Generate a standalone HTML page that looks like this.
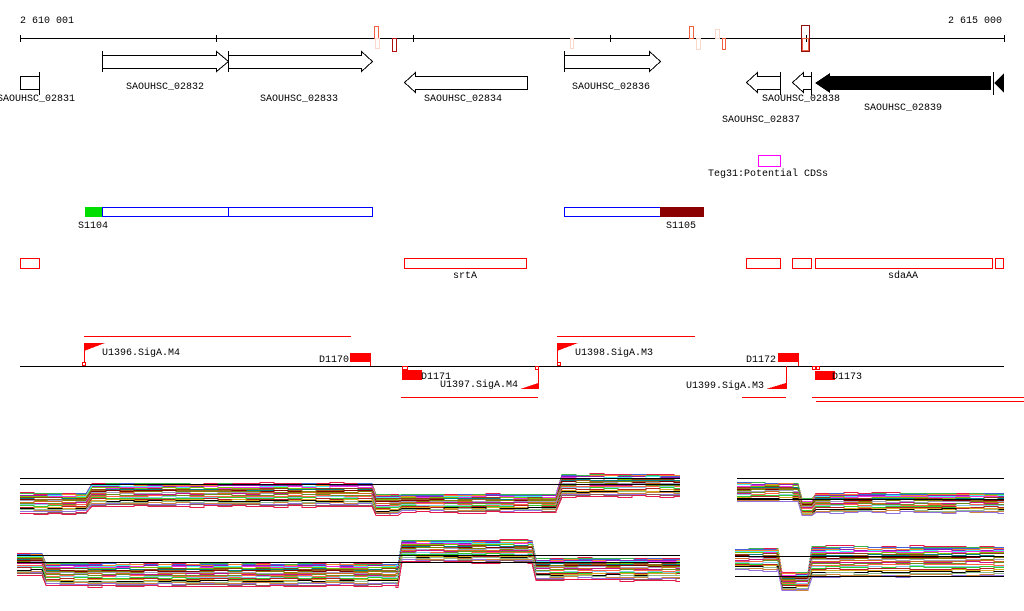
<!DOCTYPE html>
<html><head><meta charset="utf-8"><style>
html,body{margin:0;padding:0;background:#fff;}
svg{display:block;}
text{font-family:"Liberation Mono",monospace;font-size:10px;fill:#000;}
</style></head><body>
<svg id="s" width="1024" height="611" viewBox="0 0 1024 611" xmlns="http://www.w3.org/2000/svg">
<g shape-rendering="crispEdges">
<text x="20" y="23">2 610 001</text>
<text x="948" y="23">2 615 000</text>
<line x1="20" y1="38.5" x2="1004" y2="38.5" stroke="#000"/>
<g stroke="#000"><line x1="20.5" y1="35" x2="20.5" y2="42"/><line x1="216.5" y1="35" x2="216.5" y2="42"/><line x1="413.5" y1="35" x2="413.5" y2="42"/><line x1="610.5" y1="35" x2="610.5" y2="42"/><line x1="806.5" y1="35" x2="806.5" y2="42"/><line x1="1004.5" y1="35" x2="1004.5" y2="42"/></g>
<g fill="none">
<rect x="374.5" y="26.5" width="4" height="12" stroke="#f06040"/>
<rect x="375.5" y="38.5" width="4" height="10" stroke="#fbd8cc"/>
<rect x="392.5" y="38.5" width="4" height="13" stroke="#b01010"/>
<rect x="570.5" y="38.5" width="3" height="10" stroke="#fbd8cc"/>
<rect x="689.5" y="26.5" width="4" height="12" stroke="#f06040"/>
<rect x="696.5" y="38.5" width="4" height="11" stroke="#fbd8cc"/>
<rect x="715.5" y="29.5" width="4" height="9" stroke="#fbd8cc"/>
<rect x="722.5" y="38.5" width="3" height="11" stroke="#f06040"/>
<rect x="801.5" y="25.5" width="8" height="26" stroke="#901010"/>
<rect x="802.5" y="38.5" width="6" height="12" stroke="#f06040"/>
</g>
<g fill="#fff" stroke="#000">
<line x1="102.5" y1="51" x2="102.5" y2="72"/>
<polygon points="102.5,55.5 216.5,55.5 216.5,51.5 228.5,61.5 216.5,71.5 216.5,68.5 102.5,68.5"/>
<line x1="228.5" y1="51" x2="228.5" y2="72"/>
<polygon points="228.5,55.5 361.5,55.5 361.5,51.5 372.5,61.5 361.5,71.5 361.5,68.5 228.5,68.5"/>
<polygon points="527.5,76.5 415.5,76.5 415.5,72.5 404.5,82.5 415.5,92.5 415.5,89.5 527.5,89.5"/>
<rect x="20.5" y="76.5" width="19" height="13"/>
<line x1="39.5" y1="72" x2="39.5" y2="95"/>
<line x1="564.5" y1="51" x2="564.5" y2="72"/>
<polygon points="564.5,55.5 649.5,55.5 649.5,51.5 660.5,61.5 649.5,71.5 649.5,68.5 564.5,68.5"/>
<polygon points="780.5,76.5 757.5,76.5 757.5,72.5 746.5,82.5 757.5,92.5 757.5,89.5 780.5,89.5"/>
<line x1="780.5" y1="72" x2="780.5" y2="95"/>
<polygon points="811.5,76.5 803.5,76.5 803.5,72.5 792.5,82.5 803.5,92.5 803.5,89.5 811.5,89.5"/>
<line x1="811.5" y1="72" x2="811.5" y2="95"/>
<line x1="993.5" y1="72" x2="993.5" y2="95"/>
</g>
<polygon points="991,76 830,76 830,73 815,83 830,93 830,90 991,90" fill="#000"/>
<polygon points="1004,73 994,83 1004,93" fill="#000"/>
<text x="126" y="89">SAOUHSC_02832</text>
<text x="260" y="101">SAOUHSC_02833</text>
<text x="424" y="101">SAOUHSC_02834</text>
<text x="-3" y="101">SAOUHSC_02831</text>
<text x="572" y="89">SAOUHSC_02836</text>
<text x="762" y="101">SAOUHSC_02838</text>
<text x="864" y="110">SAOUHSC_02839</text>
<text x="722" y="122">SAOUHSC_02837</text>
<rect x="758.5" y="155.5" width="22" height="11" fill="none" stroke="#f0f"/>
<text x="708" y="176">Teg31:Potential CDSs</text>
<rect x="85" y="207" width="17" height="10" fill="#0d0"/>
<rect x="102.5" y="207.5" width="270" height="9" fill="none" stroke="#00f"/>
<line x1="228.5" y1="207" x2="228.5" y2="217" stroke="#00f"/>
<text x="78" y="228">S1104</text>
<rect x="564.5" y="207.5" width="96" height="9" fill="none" stroke="#00f"/>
<rect x="660" y="207" width="44" height="10" fill="#8b0000"/>
<text x="666" y="228">S1105</text>
<g fill="none" stroke="#f00">
<rect x="20.5" y="258.5" width="19" height="10"/>
<rect x="404.5" y="258.5" width="122" height="10"/>
<rect x="746.5" y="258.5" width="34" height="10"/>
<rect x="792.5" y="258.5" width="19" height="10"/>
<rect x="815.5" y="258.5" width="177" height="10"/>
<rect x="995.5" y="258.5" width="8" height="10"/>
</g>
<text x="453" y="278">srtA</text>
<text x="888" y="278">sdaAA</text>
<line x1="20" y1="366.5" x2="1004" y2="366.5" stroke="#000"/>
<g stroke="#f00" fill="none">
<line x1="84" y1="336.5" x2="351" y2="336.5"/>
<line x1="557" y1="336.5" x2="695" y2="336.5"/>
<line x1="401" y1="397.5" x2="538" y2="397.5"/>
<line x1="742" y1="397.5" x2="786" y2="397.5"/>
<line x1="812" y1="397.5" x2="1024" y2="397.5"/>
<line x1="816" y1="401.5" x2="1024" y2="401.5"/>
<line x1="84.5" y1="343" x2="84.5" y2="363"/>
<rect x="82.5" y="362.5" width="3" height="3"/>
<line x1="557.5" y1="343" x2="557.5" y2="363"/>
<rect x="557.5" y="362.5" width="3" height="3"/>
<line x1="370.5" y1="353" x2="370.5" y2="366"/>
<line x1="798.5" y1="353" x2="798.5" y2="366"/>
<line x1="538.5" y1="366" x2="538.5" y2="389"/>
<rect x="535.5" y="366.5" width="3" height="3"/>
<line x1="786.5" y1="366" x2="786.5" y2="389"/>
<rect x="402.5" y="366.5" width="5" height="3"/>
<rect x="812.5" y="366.5" width="3" height="3"/>
<rect x="816.5" y="366.5" width="3" height="3"/>
</g>
<g fill="#f00">
<polygon points="84,343 105,343 84,351"/>
<polygon points="557,343 578,343 557,351"/>
<polygon points="538,383 538,389 520,389"/>
<polygon points="786,383 786,389 766,389"/>
<rect x="350" y="353" width="21" height="9"/>
<rect x="778" y="353" width="21" height="9"/>
<rect x="402" y="370" width="20" height="10"/>
<rect x="815" y="371" width="20" height="9"/>
</g>
<text x="102" y="355">U1396.SigA.M4</text>
<text x="319" y="362">D1170</text>
<text x="421" y="379">D1171</text>
<text x="440" y="387">U1397.SigA.M4</text>
<text x="575" y="355">U1398.SigA.M3</text>
<text x="746" y="362">D1172</text>
<text x="686" y="388">U1399.SigA.M3</text>
<text x="832" y="379">D1173</text>
<g id="plots" fill="none" stroke-width="1"></g>
<g stroke="#000">
<line x1="20" y1="478.5" x2="680" y2="478.5"/>
<line x1="20" y1="484.5" x2="680" y2="484.5"/>
<line x1="737" y1="478.5" x2="1004" y2="478.5"/>
<line x1="737" y1="499.5" x2="1004" y2="499.5"/>
<line x1="17" y1="555.5" x2="680" y2="555.5"/>
<line x1="17" y1="562.5" x2="680" y2="562.5"/>
<line x1="735" y1="556.5" x2="1004" y2="556.5"/>
<line x1="735" y1="576.5" x2="1004" y2="576.5"/>
</g>
</g>
</svg>
<script>
var pal=["#e6194b","#3cb44b","#4363d8","#f58231","#911eb4","#46f0f0","#f032e6","#7fbf00","#8b4513","#008080","#9a6324","#800000","#808000","#a0a0c0","#d2691e","#c71585","#6b8e23","#ff6347","#87ceeb","#32cd32","#b22222","#daa520","#000000","#8fbc8f","#cd853f","#9370db","#8b5a5a"];
var seed=7;function r(){seed=(seed*16807)%2147483647;return seed/2147483647;}
function panel(segs,n){
 var g=document.getElementById('plots');
 for(var i=0;i<n;i++){
  var f=i/(n-1);f=f*f*0.3+f*0.7;var pts=[];
  for(var s=0;s<segs.length;s++){
   var sg=segs[s];var x0=sg[0],x1=sg[1];
   var y=sg[2]+(sg[3]-sg[2])*f;
   for(var x=x0;x<=x1;x+=14){
    var yy=Math.round(y+(r()-0.5)*1.6)+0.5;
    var xe=Math.min(x+14,x1);
    pts.push(x+','+yy);pts.push(xe+','+yy);
   }
  }
  var p=document.createElementNS('http://www.w3.org/2000/svg','polyline');
  p.setAttribute('points',pts.join(' '));
  p.setAttribute('stroke',pal[i%pal.length]);
  g.appendChild(p);
 }
}
panel([[20,86,493,513],[92,372,483,506],[376,398,494,515],[402,556,494,512],[562,680,474,496]],28);
panel([[737,798,482,501],[802,812,498,515],[816,1004,493,512]],26);
panel([[17,42,553,575],[46,398,563,586],[402,532,540,562],[536,680,558,580]],28);
panel([[735,778,548,570],[782,808,572,590],[812,1004,546,576]],26);
</script>
</body></html>
